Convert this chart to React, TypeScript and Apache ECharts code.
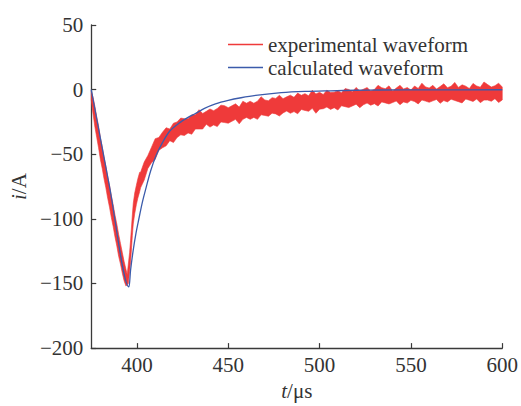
import React, { useEffect, useRef } from "react";
import * as echarts from "echarts";

// ---- data ----
const xTickValues = [400, 450, 500, 550, 600];

// calculated waveform (blue)
const calcT = [375, 385, 395.6, 396.5, 397.9, 399.5, 401, 403, 405, 407.5, 410.5, 414, 418, 423, 428, 432, 437, 443, 450, 457, 465, 479, 492, 506, 520, 533, 560, 600];
const calcV = [0, -75, -152.7, -140, -125, -111, -100.5, -87, -76, -63, -51, -41, -32, -26, -21.5, -18.5, -14.5, -11, -8.3, -6.3, -4.5, -2.4, -1.4, -0.9, -0.5, -0.3, -0.2, -0.1];

// experimental waveform (red, noisy band): time, upper envelope, lower envelope
const expT = [
  375, 376, 377, 378, 379, 380, 381, 382, 383, 384, 385, 386, 387, 388, 389, 390, 391, 392, 393, 394,
  394.7, 395.3, 396, 396.5, 397, 397.5, 398, 398.8, 399.7, 400.5, 401.5,
  402, 404, 406, 408, 410, 412, 414, 416, 418, 420, 422, 424, 426, 428, 430, 432, 434, 436, 438, 440,
  442, 444, 446, 448, 450, 452, 454, 456, 458, 460, 462, 464, 466, 468, 470, 472, 474, 476, 478, 480,
  482, 484, 486, 488, 490, 492, 494, 496, 498, 500, 502, 504, 506, 508, 510, 512, 514, 516, 518, 520,
  522, 524, 526, 528, 530, 532, 534, 536, 538, 540, 542, 544, 546, 548, 550, 552, 554, 556, 558, 560,
  562, 564, 566, 568, 570, 572, 574, 576, 578, 580, 582, 584, 586, 588, 590, 592, 594, 596, 598, 600,
];
const expHi = [
  -1, -6, -13, -21, -28, -37, -44, -52, -59, -67, -74, -82, -89, -97, -104, -112, -119, -126, -133, -139,
  -143, -135, -126, -117, -107, -97, -88, -80, -74, -69, -64,
  -64, -56, -51, -44.5, -38, -37, -33, -29.5, -30.5, -26,
  -25, -22, -22.5, -22.5, -19.5, -19.5, -15.5, -18.5, -16.8, -15,
  -16.3, -14.6, -12, -12.5, -14, -12.5, -11, -13.5, -9, -10.5,
  -9, -10.5, -9, -5.5, -8, -8.6, -6.2, -6.8, -4.4, -7,
  -5.6, -4.3, -6, -2.7, -4.4, -3.1, -4.8, -0.5, -3.3, -2.1,
  -3.8, -0.5, -2.3, -2, -0.8, -2.5, 0.8, 0.1, -1.6, 1.7,
  -1, 0.3, 1.6, -1.1, 0.1, 3.3, 1.5, 0.7, 2.9, -1,
  1.2, 3.3, 0.5, 1.6, -0.3, 2.8, 0.9, 5, 2.1, 1.2,
  3.3, 0.4, 2.4, 4.5, 1.5, 2.6, 5.6, 1.7, 3.7, 2.7,
  0.8, 4.8, 2.8, 1.9, 5.9, 3.9, 2, 3, 5, 2,
];
const expLo = [
  -8, -19, -29, -37, -45, -54, -61, -69, -76, -84, -91, -99, -106, -114, -121, -129, -135, -142, -148, -152,
  -151, -150, -141, -134, -124, -113, -104, -96, -89, -84, -79,
  -76, -70, -61, -56.5, -54, -47, -45, -43.5, -39.5, -41,
  -37, -35, -35.5, -33.5, -34.5, -30.5, -30.5, -30.5, -26.8, -29,
  -27.3, -28.6, -25, -25.5, -26, -24.5, -23, -26.5, -23, -21.5,
  -23, -21.5, -23, -19.5, -20, -20.6, -18.2, -18.8, -20.4, -18,
  -16.6, -18.3, -17, -18.7, -15.4, -16.1, -16.8, -14.5, -18.3, -15.1,
  -14.8, -13.5, -15.3, -14, -15.8, -12.5, -13.2, -13.9, -12.6, -11.3,
  -14, -11.7, -10.4, -12.1, -10.9, -12.7, -9.5, -10.3, -11.1, -10,
  -8.8, -11.7, -9.5, -10.4, -8.3, -9.2, -11.1, -8, -8.9, -9.8,
  -8.7, -7.6, -10.6, -8.5, -9.5, -7.4, -8.4, -9.3, -10.3, -7.3,
  -8.2, -9.2, -7.2, -10.1, -8.1, -8.1, -9, -7, -10, -8,
];

const RED = "#ef3a3a";
const BLUE = "#3b5bab";
const AXIS = "#3a3a3a";
const TXT = "#333";
const FONT = "Liberation Serif";

const minusFmt = (v: number) => (v < 0 ? "\u2212" + Math.abs(v) : String(v));
const richName = {
  it: { fontFamily: FONT, fontSize: 21, fontStyle: "italic", color: TXT },
  n: { fontFamily: FONT, fontSize: 21, color: TXT },
};

export default function App() {
  const ref = useRef<HTMLDivElement>(null);
  useEffect(() => {
    if (!ref.current) return;
    const chart = echarts.init(ref.current, undefined, { renderer: "svg" });
    const expData = expT.map((t, i) => [t, expLo[i], expHi[i]]);
    chart.setOption({
      animation: false,
      textStyle: { fontFamily: FONT },
      grid: { left: 88, right: 18, top: 25, bottom: 46 },
      legend: {
        orient: "vertical",
        left: 223,
        top: 29,
        itemGap: 2,
        itemWidth: 35,
        itemHeight: 1.6,
        icon: "rect",
        textStyle: { fontFamily: FONT, fontSize: 21, color: TXT, padding: [0, 0, 0, 0] },
        data: [
          { name: "experimental waveform", itemStyle: { color: RED } },
          { name: "calculated waveform", itemStyle: { color: BLUE } },
        ],
      },
      xAxis: {
        type: "value",
        min: 375,
        max: 600,
        name: "{it|t}{n|/μs}",
        nameLocation: "middle",
        nameGap: 26,
        nameTextStyle: { fontFamily: FONT, fontSize: 21, color: TXT, rich: richName },
        axisLine: { onZero: false, lineStyle: { color: AXIS, width: 1.3 } },
        axisTick: { inside: true, length: 5, customValues: xTickValues, lineStyle: { color: AXIS, width: 1.2 } },
        axisLabel: {
          customValues: xTickValues,
          fontFamily: FONT,
          fontSize: 21,
          color: TXT,
          margin: 6,
        },
        splitLine: { show: false },
      },
      yAxis: {
        type: "value",
        min: -200,
        max: 50,
        interval: 50,
        name: "{it|i}{n|/A}",
        nameLocation: "middle",
        nameRotate: 90,
        nameGap: 54,
        nameTextStyle: { fontFamily: FONT, fontSize: 21, color: TXT, rich: richName },
        axisLine: { show: true, onZero: false, lineStyle: { color: AXIS, width: 1.3 } },
        axisTick: { show: true, inside: true, length: 5, lineStyle: { color: AXIS, width: 1.2 } },
        axisLabel: {
          fontFamily: FONT,
          fontSize: 21,
          color: TXT,
          margin: 8,
          formatter: minusFmt,
        },
        splitLine: { show: false },
      },
      series: [
        {
          name: "experimental waveform",
          type: "custom",
          itemStyle: { color: RED },
          encode: { x: 0, y: [1, 2] },
          data: expData,
          z: 1,
          renderItem: (params: any, api: any) => {
            if (params.dataIndex !== 0) return null;
            const pts: number[][] = [];
            for (let i = 0; i < expT.length; i++) pts.push(api.coord([expT[i], expHi[i]]));
            for (let i = expT.length - 1; i >= 0; i--) pts.push(api.coord([expT[i], expLo[i]]));
            return {
              type: "polygon",
              shape: { points: pts },
              style: { fill: RED, stroke: RED, lineWidth: 0.6 },
            };
          },
        },
        {
          name: "calculated waveform",
          type: "line",
          data: calcT.map((t, i) => [t, calcV[i]]),
          showSymbol: false,
          symbol: "none",
          smooth: 0.3,
          lineStyle: { color: BLUE, width: 1.3 },
          itemStyle: { color: BLUE },
          z: 3,
        },
      ],
    });
    return () => chart.dispose();
  }, []);
  return <div ref={ref} style={{ width: 521, height: 406, position: "absolute", left: 0, top: 0 }} />;
}
